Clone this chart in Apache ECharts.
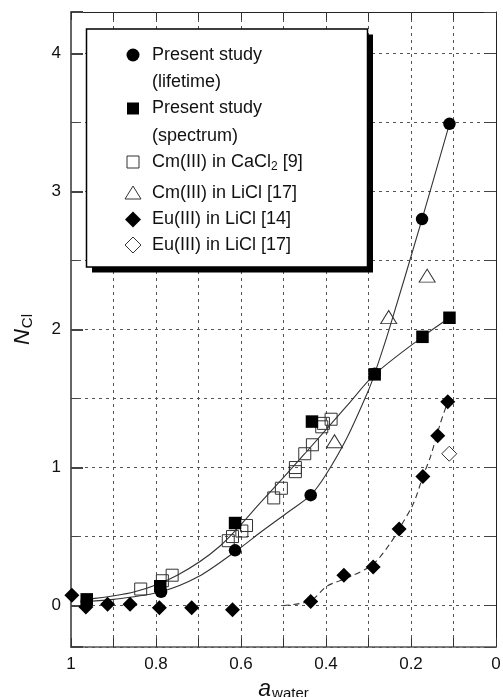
<!DOCTYPE html>
<html>
<head>
<meta charset="utf-8">
<script src="https://cdn.jsdelivr.net/npm/echarts@6/dist/echarts.min.js"></script>
<style>
  html, body { margin: 0; padding: 0; background: #fff; }
  #chart { width: 503px; height: 697px; }
</style>
</head>
<body>
<div id="chart"></div>
<script>
// measured points [a_water, N_Cl]
const lifetimePts = [[0.963, 0.03], [0.788, 0.10], [0.614, 0.40], [0.436, 0.80], [0.2855, 1.68], [0.174, 2.80], [0.1095, 3.49]]
const spectrumPts = [[0.963, 0.045], [0.79, 0.14], [0.614, 0.598], [0.433, 1.333], [0.2855, 1.675], [0.173, 1.947], [0.1095, 2.085]]
const cmCaCl2Pts = [[0.836, 0.12], [0.785, 0.18], [0.762, 0.22], [0.630, 0.47], [0.620, 0.50], [0.598, 0.54], [0.587, 0.58],
  [0.523, 0.78], [0.505, 0.85], [0.472, 1.00], [0.472, 0.97], [0.45, 1.10], [0.432, 1.165], [0.41, 1.295], [0.406, 1.32], [0.388, 1.35]]
const cmLiClPts = [[0.38, 1.19], [0.2525, 2.09], [0.162, 2.39]]
const euLiCl14Pts = [[0.998, 0.075], [0.965, -0.01], [0.914, 0.01], [0.861, 0.01], [0.792, -0.015], [0.716, -0.015], [0.62, -0.03],
  [0.436, 0.03], [0.358, 0.22], [0.289, 0.28], [0.228, 0.555], [0.172, 0.935], [0.137, 1.23], [0.1135, 1.477]]
const euLiCl17Pts = [[0.110, 1.10]]

// fitted curves
const lifetimeFit = [[0.963, 0.03], [0.9, 0.045], [0.788, 0.10], [0.7, 0.21], [0.614, 0.39], [0.55, 0.54], [0.488, 0.68],
  [0.436, 0.80], [0.4, 0.95], [0.35, 1.22], [0.3, 1.56], [0.2855, 1.68], [0.2525, 1.99], [0.174, 2.80], [0.1095, 3.49]]
const spectrumFit = [[0.963, 0.045], [0.85, 0.1], [0.75, 0.22], [0.65, 0.43], [0.55, 0.76], [0.45, 1.1], [0.35, 1.45],
  [0.2855, 1.675], [0.173, 1.947], [0.1095, 2.085]]
const euFit = [[0.5, 0.0], [0.436, 0.035], [0.398, 0.14], [0.343, 0.21], [0.289, 0.3], [0.249, 0.45], [0.228, 0.555],
  [0.194, 0.742], [0.172, 0.935], [0.154, 1.08], [0.131, 1.32], [0.1135, 1.477]]

const legendRows = [
  { text: 'Present study', y: 55, symbol: 'circle' },
  { text: '(lifetime)', y: 82 },
  { text: 'Present study', y: 108.5, symbol: 'square' },
  { text: '(spectrum)', y: 136 },
  { text: 'Cm(III) in CaCl{sub|2} [9]', y: 162, symbol: 'openSquare' },
  { text: 'Cm(III) in LiCl [17]', y: 193, symbol: 'triangle' },
  { text: 'Eu(III) in LiCl [14]', y: 219.5, symbol: 'diamond' },
  { text: 'Eu(III) in LiCl [17]', y: 245, symbol: 'openDiamond' },
]

const FONT = '"Liberation Sans", Arial, Helvetica, sans-serif'
const INK = '#111'
const GRID_LINE = { type: [3, 4], color: '#555', width: 1 }

function tickLabelX(v) {
  const t = Math.round(v * 10)
  return t % 2 === 0 ? String(t / 10) : ''
}

function tickLabelY(v) {
  return Math.abs(v - Math.round(v)) < 1e-6 ? String(Math.round(v)) : ''
}

function legendMarker(kind, cx, cy) {
  if (kind === 'circle') return { type: 'circle', shape: { cx, cy, r: 6.5 }, style: { fill: '#000' } }
  if (kind === 'square') return { type: 'rect', shape: { x: cx - 6, y: cy - 6, width: 12, height: 12 }, style: { fill: '#000' } }
  if (kind === 'openSquare') return { type: 'rect', shape: { x: cx - 6, y: cy - 6, width: 12, height: 12 }, style: { fill: '#fff', stroke: '#333', lineWidth: 1 } }
  if (kind === 'triangle') return { type: 'polygon', shape: { points: [[cx, cy - 7], [cx + 8, cy + 6], [cx - 8, cy + 6]] }, style: { fill: '#fff', stroke: '#333', lineWidth: 1 } }
  if (kind === 'diamond') return { type: 'polygon', shape: { points: [[cx, cy - 8], [cx + 8, cy], [cx, cy + 8], [cx - 8, cy]] }, style: { fill: '#000' } }
  return { type: 'polygon', shape: { points: [[cx, cy - 8], [cx + 8, cy], [cx, cy + 8], [cx - 8, cy]] }, style: { fill: '#fff', stroke: '#333', lineWidth: 1 } }
}

const legendGraphics = [
  { type: 'rect', shape: { x: 92, y: 34.5, width: 281, height: 238 }, style: { fill: '#000' } },
  { type: 'rect', shape: { x: 86.5, y: 29, width: 281, height: 238 }, style: { fill: '#fff', stroke: '#000', lineWidth: 1.5 } },
]
legendRows.forEach(row => {
  if (row.symbol) legendGraphics.push(legendMarker(row.symbol, 133, row.y))
  legendGraphics.push({
    type: 'text',
    x: 152,
    y: row.y,
    style: {
      text: row.text,
      font: `18px ${FONT}`,
      fill: INK,
      verticalAlign: 'middle',
      rich: { sub: { fontSize: 12, fontFamily: FONT, fill: INK, padding: [9, 0, 0, 0] } },
    },
  })
})

const chart = echarts.init(document.getElementById('chart'), null, { renderer: 'canvas' })

const baseX = { type: 'value', min: 0, max: 1, inverse: true, interval: 0.1 }
const baseY = { type: 'value', min: -0.3, max: 4.3 }
const markerStyle = (fill, border) => ({ color: fill, opacity: 1, borderColor: border, borderWidth: border ? 1 : 0 })

chart.setOption({
  animation: false,
  backgroundColor: '#fff',
  textStyle: { fontFamily: FONT },
  grid: { left: 71, right: 7, top: 12, bottom: 50, outerBoundsMode: 'none', containLabel: false },
  xAxis: [
    {
      ...baseX,
      position: 'bottom',
      name: '{a|a}{w|water}',
      nameLocation: 'middle',
      nameGap: 20,
      nameTextStyle: {
        rich: {
          a: { fontSize: 23, fontStyle: 'italic', fontFamily: FONT, color: INK },
          w: { fontSize: 15, fontFamily: FONT, color: INK, padding: [8, 0, 0, 1] },
        },
      },
      axisLine: { onZero: false, lineStyle: { color: '#555', width: 1.6 } },
      axisTick: { inside: true, length: 9, lineStyle: { color: '#333', width: 1 } },
      axisLabel: { formatter: tickLabelX, fontSize: 17, color: INK, margin: 9, fontFamily: FONT },
      splitLine: { show: true, lineStyle: GRID_LINE },
    },
    {
      ...baseX,
      position: 'top',
      axisLine: { onZero: false, lineStyle: { color: '#222', width: 1 } },
      axisTick: { inside: true, length: 8, lineStyle: { color: '#333', width: 1 } },
      axisLabel: { show: false },
      splitLine: { show: false },
    },
  ],
  yAxis: [
    {
      ...baseY,
      position: 'left',
      splitNumber: 9,
      name: '{n|N}{s|Cl}',
      nameLocation: 'middle',
      nameRotate: 90,
      nameGap: 36,
      nameTextStyle: {
        rich: {
          n: { fontSize: 22, fontStyle: 'italic', fontFamily: FONT, color: INK },
          s: { fontSize: 15, fontFamily: FONT, color: INK, padding: [10, 0, 0, 1] },
        },
      },
      axisLine: { onZero: false, lineStyle: { color: '#666', width: 2 } },
      axisTick: { inside: true, length: 7, lineStyle: { color: '#444', width: 1 } },
      axisLabel: { formatter: tickLabelY, fontSize: 17, color: INK, margin: 10, fontFamily: FONT },
      splitLine: { show: true, lineStyle: GRID_LINE },
    },
    {
      ...baseY,
      position: 'left',
      splitNumber: 5,
      axisLine: { show: false, onZero: false },
      axisTick: { inside: true, length: 12, lineStyle: { color: '#444', width: 2 } },
      axisLabel: { show: false },
      splitLine: { show: false },
    },
    {
      ...baseY,
      position: 'right',
      splitNumber: 9,
      axisLine: { onZero: false, lineStyle: { color: '#222', width: 1 } },
      axisTick: { inside: true, length: 12, lineStyle: { color: '#444', width: 1 } },
      axisLabel: { show: false },
      splitLine: { show: false },
    },
  ],
  graphic: { elements: legendGraphics.map(g => ({ ...g, z: 100 })) },
  series: [
    { type: 'line', data: lifetimeFit, smooth: 0.3, showSymbol: false, lineStyle: { color: '#333', width: 1.1 }, z: 3 },
    { type: 'line', data: spectrumFit, smooth: 0.3, showSymbol: false, lineStyle: { color: '#333', width: 1.1 }, z: 3 },
    { type: 'line', data: euFit, smooth: 0.3, showSymbol: false, lineStyle: { color: '#333', width: 1.1, type: [6, 4] }, z: 3 },
    { type: 'scatter', data: cmCaCl2Pts, symbol: 'rect', symbolSize: 12, itemStyle: markerStyle('rgba(255,255,255,0)', '#333'), z: 4 },
    { type: 'scatter', data: cmLiClPts, symbol: 'triangle', symbolSize: [16, 13], itemStyle: markerStyle('rgba(255,255,255,0)', '#333'), z: 4 },
    { type: 'scatter', data: lifetimePts, symbol: 'circle', symbolSize: 12.5, itemStyle: markerStyle('#000'), z: 5 },
    { type: 'scatter', data: spectrumPts, symbol: 'rect', symbolSize: 12.5, itemStyle: markerStyle('#000'), z: 6 },
    { type: 'scatter', data: euLiCl14Pts, symbol: 'diamond', symbolSize: 15, itemStyle: markerStyle('#000'), z: 6 },
    { type: 'scatter', data: euLiCl17Pts, symbol: 'diamond', symbolSize: 15, itemStyle: markerStyle('#fff', '#333'), z: 6 },
  ],
})
</script>
</body>
</html>
